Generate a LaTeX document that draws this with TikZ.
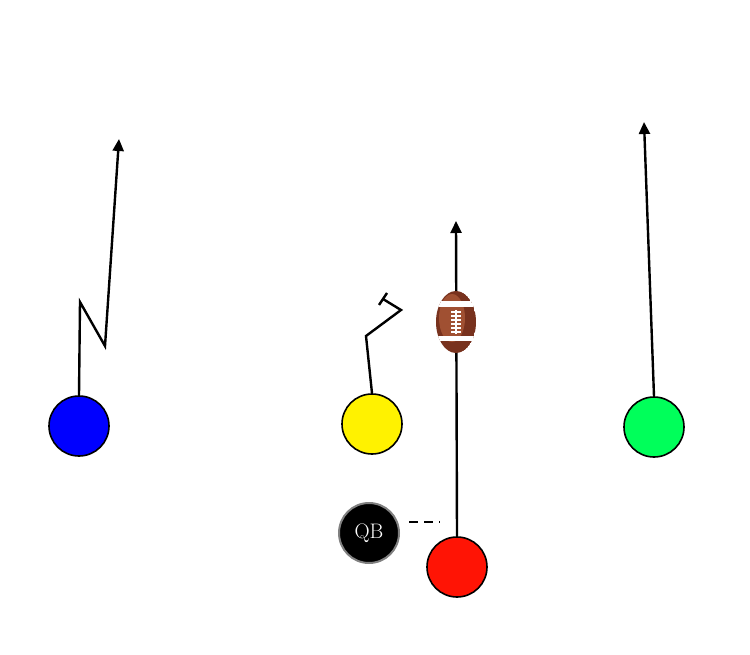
\documentclass[tikz,border=0pt]{standalone}
\usetikzlibrary{arrows.meta}
\definecolor{greenp}{RGB}{0,255,90}
\definecolor{redp}{RGB}{255,20,5}
\definecolor{balldark}{RGB}{120,50,30}
\definecolor{balllight}{RGB}{160,80,50}
\begin{document}
\begin{tikzpicture}[x=1pt,y=-1pt,
  player/.style={circle,draw=black,line width=1.6pt,minimum size=60pt,inner sep=0pt},
  route/.style={line width=2.4pt,-{Triangle[length=12pt,width=11pt]}},
  plain/.style={line width=2.4pt}]
\useasboundingbox (0,0) rectangle (750,655);
\node[player,fill=blue] (wr1) at (79,426) {};
\node[player,fill=yellow] (wr2) at (372,424) {};
\node[player,fill=greenp] (wr3) at (654,427) {};
\node[player,fill=redp] (rb) at (457,567) {};
\node[player,fill=black,draw=gray,line width=2pt,text=white,font=\fontsize{21}{24}\selectfont] (qb) at (369,533) {QB};
\coordinate (e1) at (119,139);
\coordinate (e2) at (644,122);
\coordinate (e3) at (456,221);
\coordinate (b1) at (80,302);
\coordinate (b2) at (105,346);
\draw[route] (wr1.north) -- (b1) -- (b2) -- (e1);
\draw[route] (wr3.north) -- (e2);
\draw[route] (rb.north) -- (e3);
\coordinate (y1) at (366,336);
\coordinate (y2) at (401,310);
\coordinate (y3) at (383,299);
\draw[plain,line join=miter] (wr2.north) -- (y1) -- (y2) -- (y3);
\coordinate (t1) at (379,305);
\coordinate (t2) at (387,293);
\draw[plain] (t1) -- (t2);
\coordinate (d1) at (409,522);
\coordinate (d2) at (440,522);
\draw[plain,dash pattern=on 9pt off 6pt] (d1) -- (d2);
% football
\begin{scope}
\clip (456,322) ellipse (20 and 31);
\fill[balldark] (456,322) ellipse (20 and 31);
\fill[balllight] (452,318) ellipse (13 and 24);
\fill[white] (430,301) rectangle (482,307);
\fill[white] (430,336) rectangle (482,341);
\end{scope}
\node[draw=none,inner sep=0pt] (ball) at (456,322) {};
\draw[white,line width=2pt] (456,310) -- (456,334);
\foreach \yy in {312,316,...,332} \draw[white,line width=1.2pt] (451,\yy) -- (461,\yy);
\end{tikzpicture}
\end{document}
